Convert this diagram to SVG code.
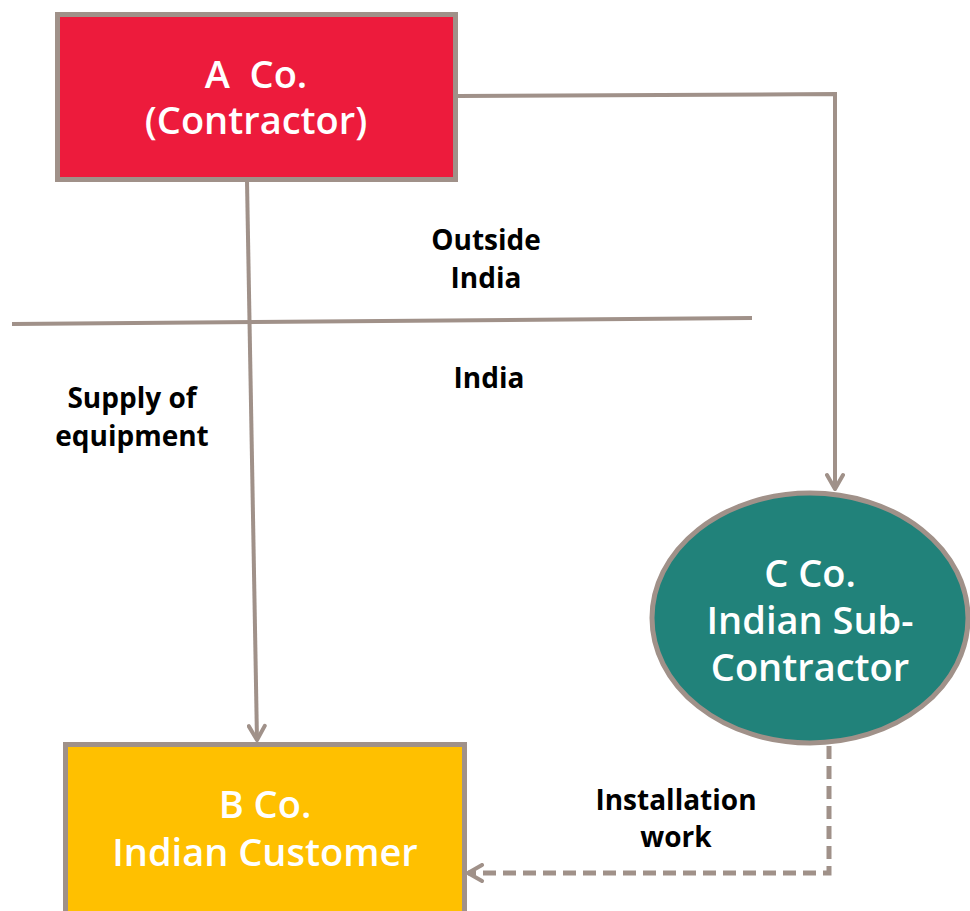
<svg xmlns="http://www.w3.org/2000/svg" width="970" height="911" viewBox="0 0 970 911">
  <defs>
    <style>
      .edge { fill: none; stroke: #a09189; stroke-width: 4; }
      .dash { stroke-width: 5; stroke-dasharray: 13 7; }
      .node { stroke: #a09189; stroke-width: 5; }
      .ntext { font-family: "Open Sans", "Noto Sans", sans-serif; font-weight: 600; font-size: 38px; fill: #ffffff; text-anchor: middle; }
      .label { font-family: "Open Sans", "Noto Sans", sans-serif; font-weight: 700; font-size: 28px; fill: #000000; text-anchor: middle; }
    </style>
    <marker id="chev" viewBox="0 0 20 20" refX="18" refY="10" markerWidth="20" markerHeight="20" markerUnits="userSpaceOnUse" orient="auto">
      <polyline points="4,2 18,10 4,18" fill="none" stroke="#a09189" stroke-width="4" stroke-linecap="round" stroke-linejoin="round"/>
    </marker>
  </defs>
  <rect width="970" height="911" fill="#ffffff"/>

  <g id="connectors">
    <line class="edge" x1="12" y1="324" x2="752" y2="318"/>
    <polyline class="edge" points="458,96 835,94 835,489" marker-end="url(#chev)"/>
    <line class="edge" x1="247" y1="181" x2="257" y2="740" marker-end="url(#chev)"/>
    <polyline class="edge dash" points="829,746 829,873 468,873" marker-end="url(#chev)"/>
  </g>

  <g id="node-a">
    <rect class="node" x="57.5" y="14.5" width="398" height="165" fill="#ed1b3c"/>
    <text class="ntext" x="256" y="88" xml:space="preserve">A  Co.</text>
    <text class="ntext" x="256" y="134">(Contractor)</text>
  </g>

  <g id="node-c">
    <ellipse class="node" cx="810" cy="618" rx="158" ry="125" fill="#21827a"/>
    <text class="ntext" x="810" y="587">C Co.</text>
    <text class="ntext" x="810" y="634">Indian Sub-</text>
    <text class="ntext" x="810" y="681">Contractor</text>
  </g>

  <g id="node-b">
    <rect class="node" x="65.5" y="744.5" width="399" height="175" fill="#ffc000"/>
    <text class="ntext" x="265" y="818">B Co.</text>
    <text class="ntext" x="265" y="866">Indian Customer</text>
  </g>

  <g id="labels">
    <text class="label" x="486" y="250">Outside</text>
    <text class="label" x="486" y="288">India</text>
    <text class="label" x="489" y="388">India</text>
    <text class="label" x="132" y="408">Supply of</text>
    <text class="label" x="132" y="446">equipment</text>
    <text class="label" x="676" y="810">Installation</text>
    <text class="label" x="676" y="847">work</text>
  </g>
</svg>
